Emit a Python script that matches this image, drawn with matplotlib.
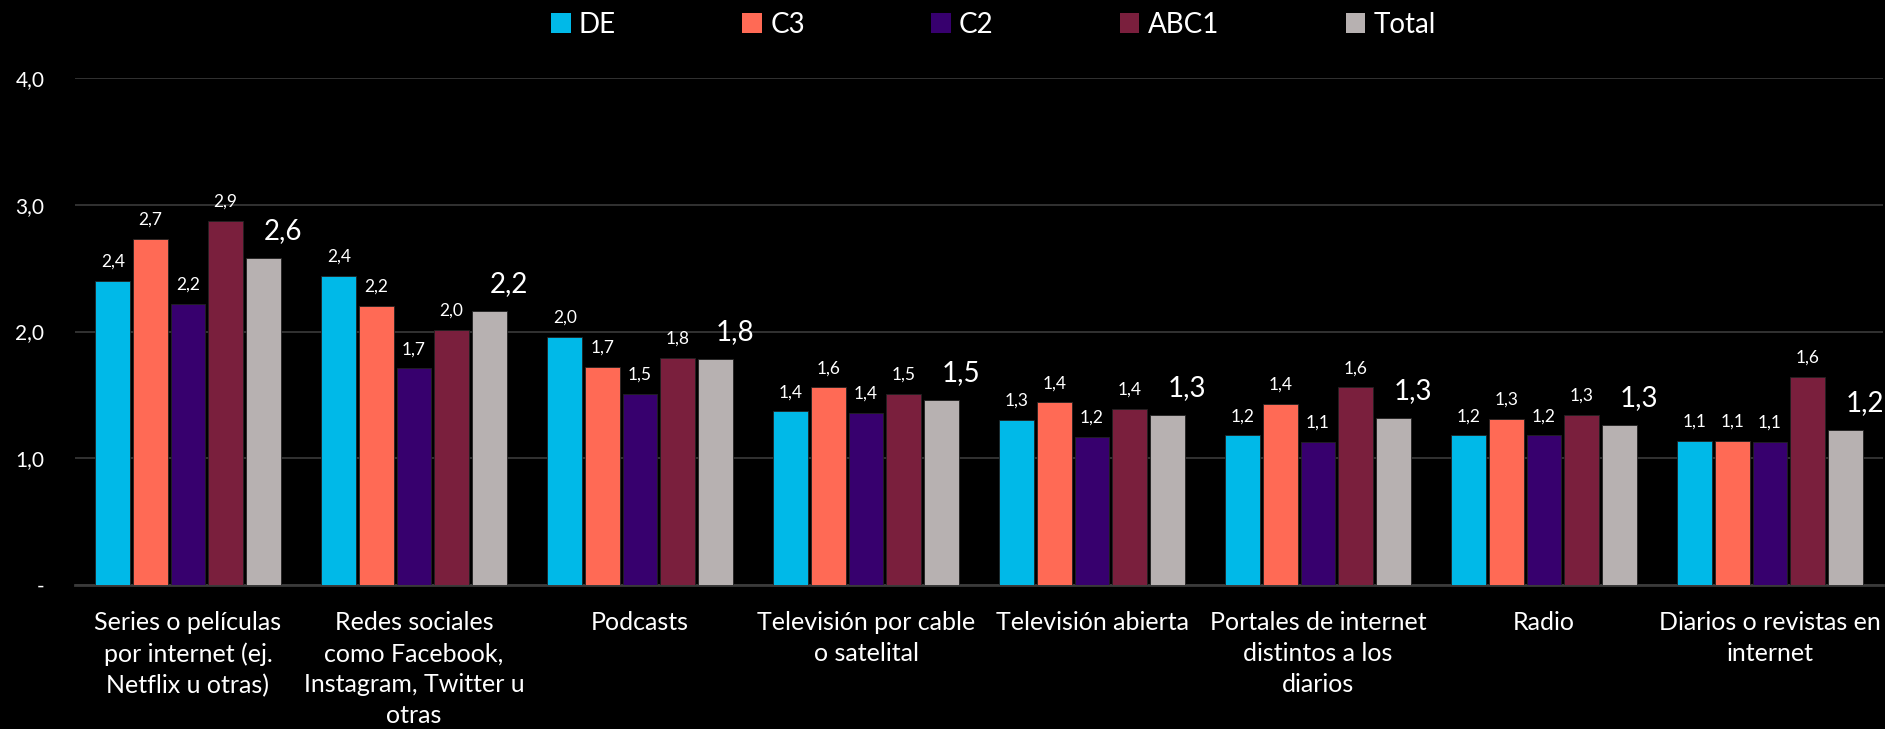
import numpy as np
import matplotlib
matplotlib.use("Agg")
from matplotlib import pyplot as plt
from matplotlib.patches import Patch

plt.rcParams['font.family'] = ['Lato', 'DejaVu Sans']

categories = ["Series o películas\npor internet (ej.\nNetflix u otras)",
              "Redes sociales\ncomo Facebook,\nInstagram, Twitter u\notras",
              "Podcasts",
              "Televisión por cable\no satelital",
              "Televisión abierta",
              "Portales de internet\ndistintos a los\ndiarios",
              "Radio",
              "Diarios o revistas en\ninternet"]

series = ["DE", "C3", "C2", "ABC1", "Total"]
de    = [2.40, 2.44, 1.96, 1.37, 1.30, 1.18, 1.18, 1.14]
c3    = [2.73, 2.20, 1.72, 1.56, 1.44, 1.43, 1.31, 1.14]
c2    = [2.22, 1.71, 1.51, 1.36, 1.17, 1.13, 1.18, 1.13]
abc1  = [2.87, 2.01, 1.79, 1.51, 1.39, 1.56, 1.34, 1.64]
total = [2.58, 2.16, 1.78, 1.46, 1.34, 1.32, 1.26, 1.22]

colors = ["#00B9E8", "#FF6A55", "#37006E", "#7A1F3D", "#B7B1B1"]
yticks = [0, 1, 2, 3, 4]
ytick_labels = ["-", "1,0", "2,0", "3,0", "4,0"]

fig = plt.figure(figsize=(18.85, 7.29), dpi=100, facecolor="black")
ax = fig.add_axes([75/1885, 1-585/729, (1883-75)/1885, (585-78)/729])
ax.set_facecolor("black")

x = np.arange(len(categories))
pitch = 0.1665
width = 0.154
data = [de, c3, c2, abc1, total]

for i, (vals, col) in enumerate(zip(data, colors)):
    pos = x + (i - 2) * pitch
    ax.bar(pos, vals, width=width, color=col, edgecolor="#222222", linewidth=0.6, zorder=3)
    for px, v in zip(pos, vals):
        txt = f"{v:.1f}".replace(".", ",")
        if i == 4:
            ax.annotate(txt, (px, v), xytext=(14, 10), textcoords="offset points",
                        ha="center", va="bottom", color="white", fontsize=20)
        else:
            ax.annotate(txt, (px, v), xytext=(0, 8), textcoords="offset points",
                        ha="center", va="bottom", color="white", fontsize=12.5)

ax.set_xlim(-0.5, len(categories) - 0.5)
ax.set_ylim(0, 4)
ax.set_yticks(yticks)
ax.set_yticklabels(ytick_labels, color="white", fontsize=15)
ax.set_xticks(x)
ax.set_xticklabels(categories, color="white", fontsize=18, linespacing=1.42)
ax.tick_params(axis="both", length=0)
ax.tick_params(axis="y", pad=22)
ax.tick_params(axis="x", pad=19)
ax.grid(axis="y", color="#3A3A3A", linewidth=1.2, zorder=0)
for s in ["top", "right", "left"]:
    ax.spines[s].set_visible(False)
ax.spines["bottom"].set_color("#3A3A3A")
ax.spines["bottom"].set_linewidth(2)

handles = [Patch(facecolor=c, edgecolor="none") for c in colors]
fig.legend(handles, series, loc="upper center", bbox_to_anchor=(0.527, 1.018), ncol=5,
           frameon=False, fontsize=20, labelcolor="white", handlelength=0.7,
           handleheight=0.7, handletextpad=0.3, columnspacing=4.55)

fig.savefig("out.png", dpi=100, facecolor="black")
